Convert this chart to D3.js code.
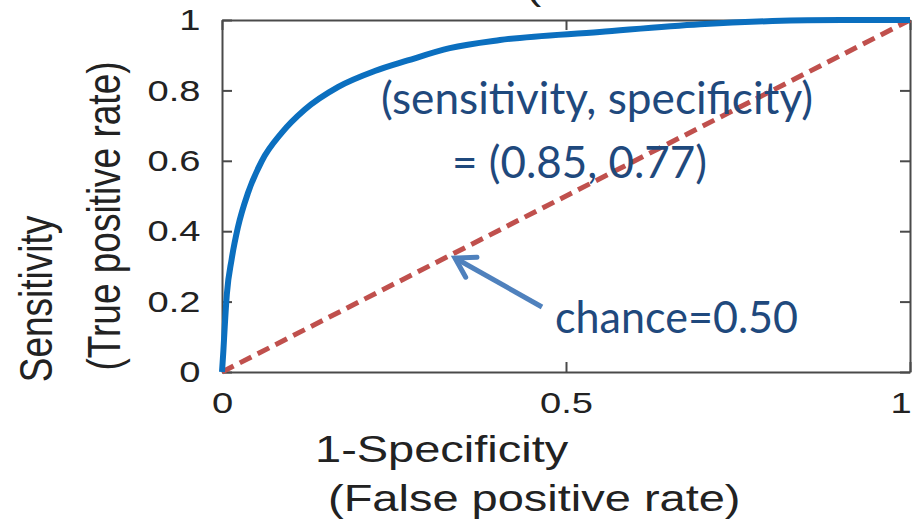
<!DOCTYPE html>
<html>
<head>
<meta charset="utf-8">
<script src="https://cdn.jsdelivr.net/npm/d3@7"></script>
<style>
  body { margin: 0; background: #fff; }
  svg { display: block; }
</style>
</head>
<body>
<svg width="918" height="521"></svg>
<script>
const width = 918;
const height = 521;

// ROC curve
const fpr = [0, 0.002, 0.004, 0.007, 0.014, 0.023, 0.038, 0.058, 0.087, 0.12, 0.169, 0.222, 0.27, 0.331, 0.404, 0.549, 0.695, 0.8, 0.9, 1];
const tpr = [0, 0.06, 0.13, 0.22, 0.32, 0.41, 0.51, 0.60, 0.68, 0.745, 0.81, 0.855, 0.885, 0.92, 0.943, 0.966, 0.988, 0.997, 1, 1];

// chance line
const chanceX = [0, 1];
const chanceY = [0, 1];

const xTicks = [0, 0.5, 1];
const xTickLabels = ['0', '0.5', '1'];
const yTicks = [0, 0.2, 0.4, 0.6, 0.8, 1];
const yTickLabels = ['0', '0.2', '0.4', '0.6', '0.8', '1'];

const margin = { left: 222, right: 8, top: 20, bottom: 149 };

const x = d3.scaleLinear().domain([0, 1]).range([margin.left, width - margin.right]);
const y = d3.scaleLinear().domain([0, 1]).range([height - margin.bottom, margin.top]);

const svg = d3.select('svg');
const helv = '"Liberation Sans", Arial, Helvetica, sans-serif';
const stretch = 1.27;

// axes (ticks pointing inside, matlab style box)
const axisColor = '#4a4a4a';

const gLeft = svg.append('g')
  .attr('transform', `translate(${x(0)},0)`)
  .call(d3.axisLeft(y).tickValues(yTicks).tickFormat((d, i) => yTickLabels[i])
    .tickSizeInner(-10).tickSizeOuter(0).tickPadding(17));

const gBottom = svg.append('g')
  .attr('transform', `translate(0,${y(0)})`)
  .call(d3.axisBottom(x).tickValues(xTicks).tickFormat((d, i) => xTickLabels[i])
    .tickSizeInner(-10).tickSizeOuter(0).tickPadding(20));

const gRight = svg.append('g')
  .attr('transform', `translate(${x(1)},0)`)
  .call(d3.axisRight(y).tickValues(yTicks).tickFormat('')
    .tickSizeInner(-10).tickSizeOuter(0));

const gTop = svg.append('g')
  .attr('transform', `translate(0,${y(1)})`)
  .call(d3.axisTop(x).tickValues(xTicks).tickFormat('')
    .tickSizeInner(-10).tickSizeOuter(0));

[gLeft, gBottom, gRight, gTop].forEach(g => {
  g.select('.domain').attr('stroke', axisColor).attr('stroke-width', 2);
  g.selectAll('.tick line').attr('stroke', axisColor).attr('stroke-width', 2);
  g.selectAll('.tick text')
    .attr('font-family', helv)
    .attr('font-size', 30)
    .attr('fill', '#222')
    .attr('transform', `scale(${stretch},1)`);
});
// the last x label sits left of its tick, inside the page
gBottom.selectAll('.tick text').filter(d => d === 1)
  .attr('text-anchor', 'end').attr('x', 1);

// chance diagonal
svg.append('path')
  .datum(d3.zip(chanceX, chanceY))
  .attr('d', d3.line().x(d => x(d[0])).y(d => y(d[1])))
  .attr('fill', 'none')
  .attr('stroke', '#c0504d')
  .attr('stroke-width', 5)
  .attr('stroke-dasharray', '13,7');

// ROC curve
svg.append('path')
  .datum(d3.zip(fpr, tpr))
  .attr('d', d3.line().x(d => x(d[0])).y(d => y(d[1])).curve(d3.curveMonotoneX))
  .attr('fill', 'none')
  .attr('stroke', '#0b6fbf')
  .attr('stroke-width', 6)
  .attr('stroke-linejoin', 'round');

// axis titles
function label(txt, tx, ty, rot, size) {
  const t = rot
    ? `translate(${tx},${ty}) rotate(-90) scale(1,${stretch})`
    : `translate(${tx},${ty}) scale(${stretch},1)`;
  svg.append('text')
    .attr('transform', t)
    .attr('text-anchor', rot ? 'middle' : 'start')
    .attr('font-family', helv)
    .attr('font-size', size)
    .attr('fill', '#222')
    .text(txt);
}
label('1-Specificity', 315, 462, false, 37);
label('(False positive rate)', 328, 511, false, 37);
label('Sensitivity', 52, 299, true, 37);
label('(True positive rate)', 120, 216, true, 37);
// cut-off title at the very top
label('(', 526, 0, false, 36);

// annotations
const noteColor = '#1f497d';
function note(txt, nx, ny, len) {
  svg.append('text')
    .attr('x', nx).attr('y', ny)
    .attr('font-family', 'Lato, "Open Sans", sans-serif')
    .attr('font-size', 44)
    .attr('fill', noteColor)
    .attr('textLength', len)
    .attr('lengthAdjust', 'spacingAndGlyphs')
    .text(txt);
}
note('(sensitivity, specificity)', 381, 114, 432);
note('= (0.85, 0.77)', 452, 178, 255);
note('chance=0.50', 555, 333, 243);

// arrow pointing at the chance line
const tip = [455, 258], tail = [542, 307];
const ang = Math.atan2(tail[1] - tip[1], tail[0] - tip[0]);
const arm = 22, spread = 0.55;
svg.append('path')
  .attr('d', `M${tail[0]},${tail[1]}L${tip[0]},${tip[1]}`)
  .attr('stroke', '#4f81bd').attr('stroke-width', 5).attr('fill', 'none');
svg.append('path')
  .attr('d', `M${tip[0] + arm * Math.cos(ang + spread)},${tip[1] + arm * Math.sin(ang + spread)}` +
    `L${tip[0]},${tip[1]}` +
    `L${tip[0] + arm * Math.cos(ang - spread)},${tip[1] + arm * Math.sin(ang - spread)}`)
  .attr('stroke', '#4f81bd').attr('stroke-width', 5).attr('fill', 'none')
  .attr('stroke-linecap', 'round').attr('stroke-linejoin', 'miter');
</script>
</body>
</html>
